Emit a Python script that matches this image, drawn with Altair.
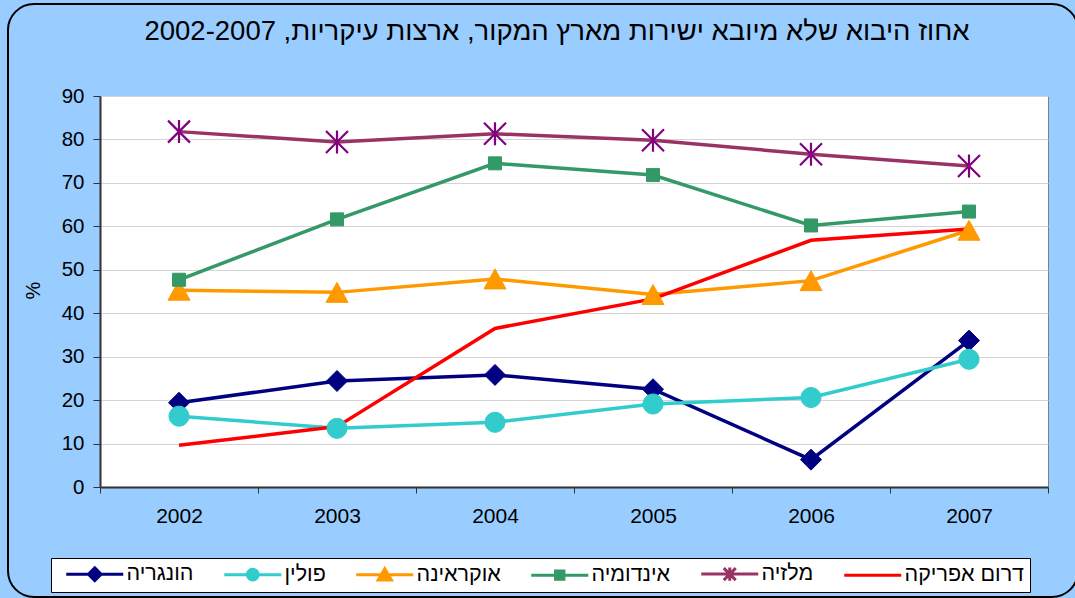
import altair as alt
import pandas as pd

# ---------------- data ----------------
years = ["2002", "2003", "2004", "2005", "2006", "2007"]
countries = ["הונגריה", "פולין", "אוקראינה", "אינדומיה", "מלזיה", "דרום אפריקה"]
hungary = [19.4, 24.4, 25.8, 22.5, 6.3, 33.7]
poland = [16.3, 13.5, 14.9, 19.1, 20.6, 29.4]
ukraine = [45.3, 44.8, 47.9, 44.3, 47.5, 59.1]
indonesia = [47.7, 61.6, 74.5, 71.8, 60.2, 63.4]
malaysia = [81.8, 79.4, 81.3, 79.8, 76.6, 73.9]
south_africa = [9.6, 13.9, 36.5, 43.3, 56.8, 59.4]
series = [hungary, poland, ukraine, indonesia, malaysia, south_africa]

title_text = "אחוז היבוא שלא מיובא ישירות מארץ המקור, ארצות עיקריות, 2002-2007"
y_title = "%"

# ---------------- styles ----------------
line_colors = ["#000080", "#33CCCC", "#FF9900", "#339966", "#993366", "#FF0000"]
marker_colors = ["#000080", "#33CCCC", "#FF9900", "#339966", "#800080", None]
# marker shapes at mark size 100 (1 unit = 5 px); None = no marker
marker_paths = [
    "M0,-2.1L2.1,0L0,2.1L-2.1,0Z",
    "M-2,0A2,2 0 1,0 2,0A2,2 0 1,0 -2,0Z",
    "M0,-2L2.2,2L-2.2,2Z",
    "M-1.3,-1.3H1.3V1.3H-1.3Z",
    "M-2.2,-2.2L2.2,2.2M-2.2,2.2L2.2,-2.2M0,-2.3V2.3",
    None,
]
marker_stroke_widths = [1, 1, 1, 1, 2.2, 1]
# legend symbols at symbol size 144 (1 unit = 6 px): line + marker
legend_line = "M-4.75,0H4.75"
legend_markers = [
    "M0,-1.05L1.05,0L0,1.05L-1.05,0Z",
    "M-0.9,0A0.9,0.9 0 1,0 0.9,0A0.9,0.9 0 1,0 -0.9,0Z",
    "M0,-1L1.1,0.9L-1.1,0.9Z",
    "M-0.7,-0.7H0.7V0.7H-0.7Z",
    "M-1,-1L1,1M-1,1L1,-1M0,-1.1V1.1",
    "",
]
legend_paths = [legend_line + m for m in legend_markers]
FONT = "Arial"

rows = []
for c, vals in zip(countries, series):
    for yr, v in zip(years, vals):
        rows.append({"year": yr, "country": c, "value": v})
df = pd.DataFrame(rows)

x_enc = alt.X(
    "year:N",
    scale=alt.Scale(type="band", paddingInner=0, paddingOuter=0),
    axis=alt.Axis(
        title=None, labelAngle=0, labelFont=FONT, labelFontSize=21, labelColor="black",
        labelPadding=12, tickSize=6, tickBand="extent", tickColor="#333333",
        domainColor="#333333", domainWidth=2, grid=False,
    ),
    bandPosition=0.5,
)
y_enc = alt.Y(
    "value:Q",
    scale=alt.Scale(domain=[0, 90], nice=False),
    axis=alt.Axis(
        values=list(range(0, 91, 10)), title=y_title, titleFont=FONT, titleFontSize=20,
        titleFontWeight="normal", titleColor="black", titleX=-57, titleY=194,
        labelFont=FONT, labelFontSize=20.5, labelColor="black", labelPadding=9,
        tickSize=7, tickColor="#333333", domainColor="#333333", domainWidth=2,
        gridColor="#D4D4D4", gridWidth=1,
    ),
)

line_layers = []
for c, col in zip(countries, line_colors):
    line_layers.append(
        alt.Chart(df).transform_filter(alt.datum.country == c).mark_line(
            strokeWidth=3.5, color=col
        ).encode(x=x_enc, y=y_enc)
    )

marker_layers = []
for c, path, col, sw in zip(countries, marker_paths, marker_colors, marker_stroke_widths):
    if path is None:
        continue
    marker_layers.append(
        alt.Chart(df).transform_filter(alt.datum.country == c).mark_point(
            filled=True, shape=path, size=100, fill=col, stroke=col, strokeWidth=sw, opacity=1
        ).encode(x=x_enc, y=y_enc)
    )

legend = alt.Legend(
    title=None, orient="none", legendX=-49, legendY=462, direction="horizontal",
    columns=6, symbolSize=144, symbolOffset=28, labelOffset=21, symbolStrokeWidth=3,
    symbolOpacity=1, labelFont=FONT, labelFontSize=21.5, labelColor="black",
    columnPadding=20, padding=5, fillColor="white", strokeColor="black",
)
legend_layer = alt.Chart(df).transform_filter("false").mark_point(
    filled=True, size=144, opacity=1
).encode(
    x=x_enc,
    y=y_enc,
    shape=alt.Shape("country:N", scale=alt.Scale(domain=countries, range=legend_paths), legend=legend),
    color=alt.Color("country:N", scale=alt.Scale(domain=countries, range=line_colors), legend=legend),
    stroke=alt.Stroke("country:N", scale=alt.Scale(domain=countries, range=line_colors), legend=legend),
)

frame = alt.Chart(pd.DataFrame({"k": [0]})).mark_rect(
    fill="transparent", stroke="black", strokeWidth=2, cornerRadius=26
).encode(x=alt.value(-92), x2=alt.value(978), y=alt.value(-92), y2=alt.value(501))

chart = alt.layer(frame, *line_layers, *marker_layers, legend_layer).properties(
    width=948,
    height=391,
    autosize="none",
    padding={"left": 100, "top": 96, "right": 27, "bottom": 111},
    title=alt.TitleParams(
        title_text, font=FONT, fontSize=27.5, fontWeight="normal", color="black",
        anchor="middle", frame="group", dx=-17, offset=-64, baseline="alphabetic",
    ),
).configure(background="#99CCFF").configure_view(fill="white", stroke="#808080", strokeWidth=1)

chart.save("out.html", embed_options={"renderer": "svg", "actions": False})
